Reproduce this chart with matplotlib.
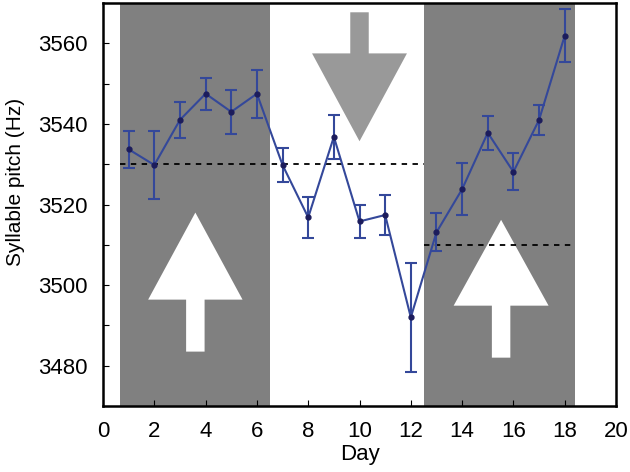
import numpy as np
import matplotlib
matplotlib.use('Agg')
import matplotlib.pyplot as plt
from matplotlib.patches import Polygon

# Datos
days = [1, 2, 3, 4, 5, 6, 7, 8, 9, 10, 11, 12, 13, 14, 15, 16, 17, 18]
pitch = [3533.7, 3529.8, 3541.0, 3547.5, 3543.0, 3547.5, 3529.8, 3516.8, 3536.8,
         3515.8, 3517.4, 3492.0, 3513.1, 3523.8, 3537.8, 3528.1, 3541.0, 3561.9]
err = [4.6, 8.5, 4.4, 4.0, 5.5, 6.0, 4.3, 5.0, 5.4, 4.0, 5.0, 13.5, 4.7, 6.5, 4.2, 4.6, 3.7, 6.5]

# Periodos sombreados (días)
shade_periods = [(0.68, 6.5), (12.5, 18.4)]
# Líneas de referencia: (inicio, fin, nivel)
ref_lines = [(0.68, 12.5, 3530), (12.5, 18.4, 3510)]

# Flechas: (x centro, y punta, y base triángulo, y fin tallo, semiancho cabeza, semiancho tallo, color)
arrows = [
    (3.6, 3518.0, 3496.4, 3483.5, 1.84, 0.36, 'white'),
    (15.52, 3516.2, 3494.9, 3482.0, 1.85, 0.36, 'white'),
    (10.0, 3535.7, 3557.5, 3567.7, 1.85, 0.36, '#999999'),
]

plt.rcParams['font.family'] = ['Liberation Sans', 'DejaVu Sans']

fig = plt.figure(figsize=(6.3, 4.72), dpi=100)
ax = fig.add_axes([0.1635, 0.1398, 0.8143, 0.8538])

for x0, x1 in shade_periods:
    ax.axvspan(x0, x1, color='#808080', lw=0, zorder=1)

for xc, ytip, ybase, yend, hw, sw, col in arrows:
    pts = [(xc, ytip), (xc + hw, ybase), (xc + sw, ybase), (xc + sw, yend),
           (xc - sw, yend), (xc - sw, ybase), (xc - hw, ybase)]
    ax.add_patch(Polygon(pts, closed=True, facecolor=col, edgecolor='none', zorder=2))

for x0, x1, y in ref_lines:
    ax.plot([x0, x1], [y, y], color='black', linestyle=(0, (3, 3)), lw=1.3, zorder=3)

ax.errorbar(days, pitch, yerr=err, color='#34489a', lw=1.5, elinewidth=1.5,
            capsize=4, capthick=1.5, marker='o', markersize=3.5,
            markerfacecolor='#1c1c5c', markeredgecolor='#1c1c5c', zorder=4)

ax.set_xlim(0, 20)
ax.set_ylim(3470, 3570)
ax.set_xticks(np.arange(0, 21, 2))
ax.set_yticks([3480, 3500, 3520, 3540, 3560])
ax.set_yticks(np.arange(3470, 3571, 10), minor=True)
ax.tick_params(direction='in', length=4, width=0.8, labelsize=16, pad=11)
ax.tick_params(which='minor', direction='in', length=4, width=0.8)
for s in ax.spines.values():
    s.set_linewidth(1.8)

ax.set_xlabel('Day', fontsize=16, labelpad=1)
ax.set_ylabel('Syllable pitch (Hz)', fontsize=15)
ax.yaxis.set_label_coords(-0.152, 0.557)

fig.savefig('out.png', dpi=100)
